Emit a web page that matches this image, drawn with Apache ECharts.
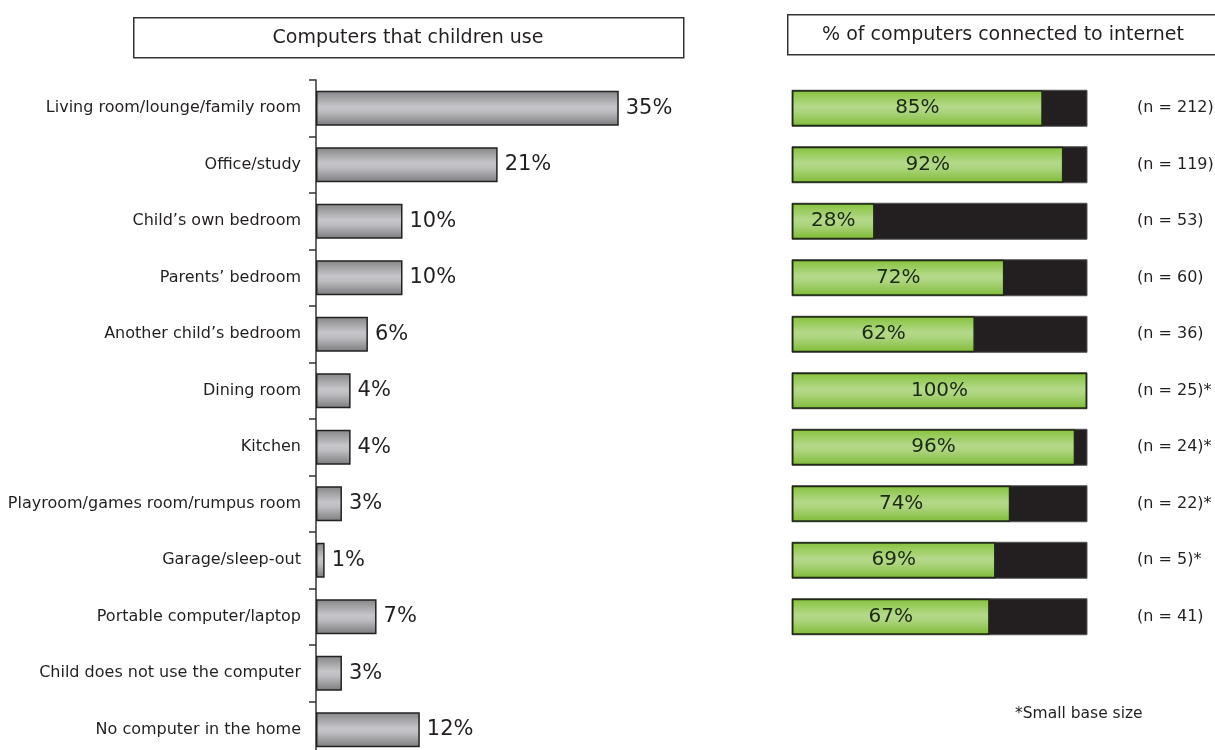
<!DOCTYPE html>
<html>
<head>
<meta charset="utf-8">
<script src="https://cdn.jsdelivr.net/npm/echarts@6/dist/echarts.min.js"></script>
<style>
  html, body { margin: 0; padding: 0; background: #fff; overflow: hidden; }
  #chart { width: 1215px; height: 760px; }
</style>
</head>
<body>
<div id="chart"></div>
<script>
// Where the computers that children use are located (share of computers)
const locations = [
  'Living room/lounge/family room',
  'Office/study',
  'Child\u2019s own bedroom',
  'Parents\u2019 bedroom',
  'Another child\u2019s bedroom',
  'Dining room',
  'Kitchen',
  'Playroom/games room/rumpus room',
  'Garage/sleep-out',
  'Portable computer/laptop',
  'Child does not use the computer',
  'No computer in the home'
];
const locationShare = [35, 21, 10, 10, 6, 4, 4, 3, 1, 7, 3, 12];

// Internet connection rate for computers at each location (first ten locations)
const connectedShare = [85, 92, 28, 72, 62, 100, 96, 74, 69, 67];
const baseSizes = ['(n = 212)', '(n = 119)', '(n = 53)', '(n = 60)', '(n = 36)',
                   '(n = 25)*', '(n = 24)*', '(n = 22)*', '(n = 5)*', '(n = 41)'];

const FONT = 'DejaVu Sans';
const TEXT = '#231f20';

const grayFill = new echarts.graphic.LinearGradient(0, 0, 0, 1, [
  { offset: 0, color: '#858588' },
  { offset: 0.45, color: '#c6c6ca' },
  { offset: 0.6, color: '#bdbdc1' },
  { offset: 1, color: '#7b7b7e' }
]);
const greenFill = new echarts.graphic.LinearGradient(0, 0, 0, 1, [
  { offset: 0, color: '#86c23c' },
  { offset: 0.45, color: '#b4d98a' },
  { offset: 0.6, color: '#acd47e' },
  { offset: 1, color: '#7fbb36' }
]);

const chart = echarts.init(document.getElementById('chart'), null, { renderer: 'canvas' });

chart.setOption({
  animation: false,
  textStyle: { fontFamily: FONT },
  grid: [
    { left: 316, top: 80, width: 346, height: 678, containLabel: false, outerBoundsMode: 'none' },
    { left: 792, top: 80, width: 295, height: 565, containLabel: false, outerBoundsMode: 'none' }
  ],
  xAxis: [
    { gridIndex: 0, type: 'value', min: 0, max: 40, show: false },
    { gridIndex: 1, type: 'value', min: 0, max: 100, show: false }
  ],
  yAxis: [
    {
      gridIndex: 0, type: 'category', data: locations, inverse: true,
      axisLine: { show: true, lineStyle: { color: '#333', width: 1.5 } },
      axisTick: { show: true, length: 7, lineStyle: { color: '#333', width: 1.5 } },
      axisLabel: { color: TEXT, fontSize: 16, margin: 15, fontFamily: FONT },
      splitLine: { show: false }
    },
    {
      gridIndex: 1, type: 'category', data: baseSizes, inverse: true, position: 'right',
      axisLine: { show: false }, axisTick: { show: false },
      axisLabel: { color: TEXT, fontSize: 16, margin: 50, align: 'left', fontFamily: FONT },
      splitLine: { show: false }
    }
  ],
  series: [
    {
      type: 'bar', xAxisIndex: 0, yAxisIndex: 0,
      data: locationShare, barWidth: 35,
      itemStyle: { color: grayFill, borderColor: '#222', borderWidth: 1.5 },
      label: {
        show: true, position: 'right', distance: 7,
        formatter: '{c}%', color: TEXT, fontSize: 21, fontFamily: FONT
      }
    },
    {
      type: 'bar', xAxisIndex: 1, yAxisIndex: 1,
      data: connectedShare, barWidth: 36,
      showBackground: true,
      backgroundStyle: { color: '#231f20', borderColor: '#555', borderWidth: 1 },
      itemStyle: { color: greenFill, borderColor: '#1f2a14', borderWidth: 1.5 },
      label: {
        show: true, position: 'inside',
        formatter: '{c}%', color: '#1c2a12', fontSize: 20, fontFamily: FONT
      }
    }
  ],
  graphic: [
    {
      type: 'rect', left: 133, top: 17, shape: { width: 550, height: 40 },
      style: { fill: '#fff', stroke: '#333', lineWidth: 1.5 }
    },
    {
      type: 'text', x: 408, y: 38,
      style: { text: 'Computers that children use', fill: TEXT, font: '19px "DejaVu Sans"',
               align: 'center', verticalAlign: 'middle' }
    },
    {
      type: 'rect', left: 787, top: 14, shape: { width: 460, height: 40 },
      style: { fill: '#fff', stroke: '#333', lineWidth: 1.5 }
    },
    {
      type: 'text', x: 1003, y: 35,
      style: { text: '% of computers connected to internet', fill: TEXT, font: '19px "DejaVu Sans"',
               align: 'center', verticalAlign: 'middle' }
    },
    {
      type: 'text', x: 1015, y: 714,
      style: { text: '*Small base size', fill: TEXT, font: '15.5px "DejaVu Sans"',
               align: 'left', verticalAlign: 'middle' }
    }
  ]
});
</script>
</body>
</html>
